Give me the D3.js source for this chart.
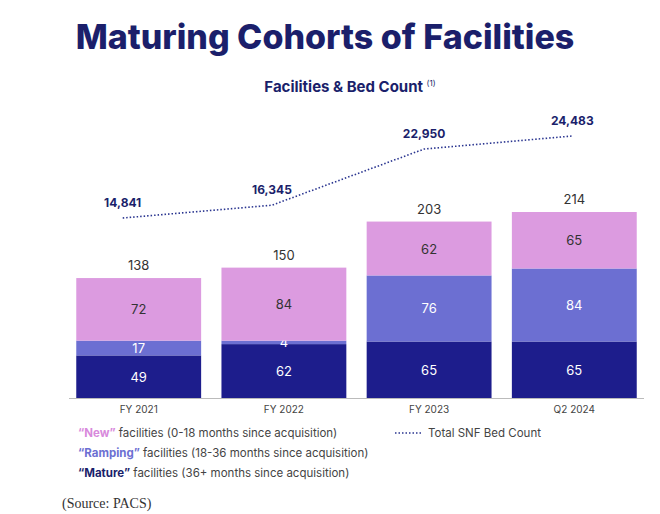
<!DOCTYPE html>
<html><head><meta charset="utf-8">
<script src="https://cdn.jsdelivr.net/npm/d3@7"></script>
<style>body{margin:0;background:#fff}svg{font-family:Inter,"Open Sans",sans-serif}</style>
</head><body><svg id="c" width="660" height="514"></svg>
<script>
const categories=["FY 2021","FY 2022","FY 2023","Q2 2024"];
const mature=[49,62,65,65];
const ramping=[17,4,76,84];
const newer=[72,84,62,65];
const totals=[138,150,203,214];
const beds=[14841,16345,22950,24483];
const bedLabels=["14,841","16,345","22,950","24,483"];

const svg=d3.select("#c");
const navy="#1b1f6b";
svg.append("text").attr("x",325).attr("y",49).attr("text-anchor","middle").attr("font-size",34).attr("font-weight",800).attr("fill",navy).text("Maturing Cohorts of Facilities");
const st=svg.append("text").attr("x",350).attr("y",92).attr("text-anchor","middle").attr("font-size",15).attr("font-weight",700).attr("fill",navy);
st.append("tspan").text("Facilities & Bed Count ");
st.append("tspan").attr("font-size",8).attr("dy",-6).attr("font-weight",400).text("(1)");

const x=d3.scaleBand().domain(categories).range([69,644]).paddingInner(0.14).paddingOuter(0.05);
const y=d3.scaleLinear().domain([0,214]).range([398,212]);
const yb=d3.scaleLinear().domain([14841,24483]).range([218,136]);
const lineOffset=[-16,-12,-5,-2];
const cols={m:"#1d1d8c",r:"#6c6fd2",n:"#dc9be0"};
categories.forEach((c,i)=>{
  const segs=[[0,mature[i],cols.m],[mature[i],mature[i]+ramping[i],cols.r],[mature[i]+ramping[i],totals[i],cols.n]];
  const vals=[mature[i],ramping[i],newer[i]];
  segs.forEach((s,k)=>{
    svg.append("rect").attr("x",x(c)).attr("width",x.bandwidth()).attr("y",y(s[1])).attr("height",y(s[0])-y(s[1])).attr("fill",s[2]);
    svg.append("text").attr("x",x(c)+x.bandwidth()/2).attr("y",(y(s[0])+y(s[1]))/2+5).attr("text-anchor","middle").attr("font-size",13).attr("fill",k==2?"#333":"#fff").text(vals[k]);
  });
  svg.append("text").attr("x",x(c)+x.bandwidth()/2).attr("y",y(totals[i])-8).attr("text-anchor","middle").attr("font-size",13).attr("fill","#333").text(totals[i]);
  svg.append("text").attr("x",x(c)+x.bandwidth()/2).attr("y",413).attr("text-anchor","middle").attr("font-size",10).attr("fill","#444").text(c);
  svg.append("text").attr("x",x(c)+x.bandwidth()/2+lineOffset[i]).attr("y",yb(beds[i])-11).attr("text-anchor","middle").attr("font-size",12).attr("font-weight",700).attr("fill",navy).text(bedLabels[i]);
});
svg.append("line").attr("x1",69).attr("x2",644).attr("y1",398.5).attr("y2",398.5).attr("stroke","#bbb");
svg.append("path").datum(beds).attr("fill","none").attr("stroke","#2a3590").attr("stroke-width",1.6).attr("stroke-dasharray","1.5,2")
  .attr("d",d3.line().x((d,i)=>x(categories[i])+x.bandwidth()/2+lineOffset[i]).y(d=>yb(d)));

const leg=[["“New”"," facilities (0-18 months since acquisition)","#d889dc",437],["“Ramping”"," facilities (18-36 months since acquisition)","#6c6fd2",457],["“Mature”"," facilities (36+ months since acquisition)",navy,477]];
leg.forEach(l=>{const t=svg.append("text").attr("x",78).attr("y",l[3]).attr("font-size",11.5).attr("fill","#444");
  t.append("tspan").attr("font-weight",700).attr("fill",l[2]).text(l[0]);t.append("tspan").text(l[1]);});
svg.append("line").attr("x1",395).attr("x2",423).attr("y1",433).attr("y2",433).attr("stroke","#2a3590").attr("stroke-width",1.6).attr("stroke-dasharray","1.5,2");
svg.append("text").attr("x",428).attr("y",437).attr("font-size",11.5).attr("fill","#444").text("Total SNF Bed Count");
svg.append("text").attr("x",62).attr("y",508).attr("font-size",14).attr("font-family","Liberation Serif, serif").attr("fill","#333").text("(Source: PACS)");
</script></body></html>
